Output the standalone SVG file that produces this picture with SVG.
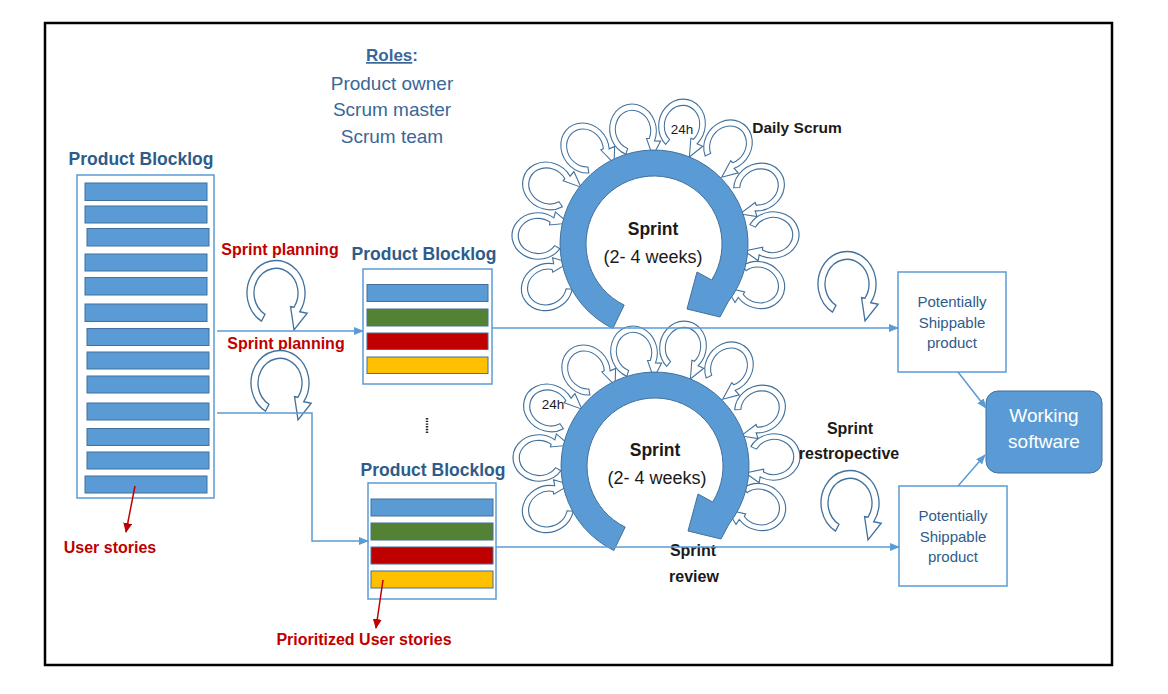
<svg xmlns="http://www.w3.org/2000/svg" width="1168" height="694" viewBox="0 0 1168 694">
<style>
text{font-family:"Liberation Sans",Arial,sans-serif}
.hd{font-weight:bold;font-size:17.5px;fill:#2E5C8A;text-anchor:middle}
.role{font-size:19px;fill:#3A6798;text-anchor:middle}
.red{font-weight:bold;font-size:16px;fill:#C00000;text-anchor:middle}
.blk{font-weight:bold;font-size:16px;fill:#1a1a1a;text-anchor:middle}
.sp{font-size:18px;fill:#1a1a1a;text-anchor:middle}
.spb{font-weight:bold;font-size:17.5px;fill:#1a1a1a;text-anchor:middle}
.h24{font-size:13.5px;fill:#1a1a1a;text-anchor:middle}
.box{fill:#fff;stroke:#5B9BD5;stroke-width:1.5}
.bar{stroke:#41719C;stroke-width:1}
.b{fill:#5B9BD5}.g{fill:#548235}.r{fill:#C00000}.y{fill:#FFC000}
.loop{fill:#fff;stroke:#41719C;stroke-width:1.3}
.ring{fill:#5B9BD5;stroke:#41719C;stroke-width:1}
.conn{fill:none;stroke:#5B9BD5;stroke-width:1.5}
.rconn{fill:none;stroke:#C00000;stroke-width:1.5}
.ptxt{font-size:15px;fill:#2E5C8A;text-anchor:middle}
.wtxt{font-size:19px;fill:#fff;text-anchor:middle}
</style>
<defs>
<marker id="ab" markerWidth="10" markerHeight="8" refX="9" refY="4" orient="auto" markerUnits="userSpaceOnUse"><path d="M0,0 L10,4 L0,8 Z" fill="#5B9BD5"/></marker>
<marker id="ar" markerWidth="10" markerHeight="9" refX="9" refY="4.5" orient="auto" markerUnits="userSpaceOnUse"><path d="M0,0 L10,4.5 L0,9 Z" fill="#C00000"/></marker>
<path id="lp" class="loop" transform="scale(1,1.12)" d="M -14.5 25.11 A 29 29 0 1 1 23.76 16.63 L 31.18 18 L 18 33 L 14.55 12.21 L 18.02 12.62 A 22 22 0 1 0 -11 19.05 Z"/>
<g id="cycle">
<use href="#lp" transform="translate(-107,43) rotate(248) scale(0.8)"/>
<use href="#lp" transform="translate(-116,-8) rotate(273) scale(0.8)"/>
<use href="#lp" transform="translate(-106,-58) rotate(298) scale(0.8)"/>
<use href="#lp" transform="translate(-69,-96) rotate(324) scale(0.8)"/>
<use href="#lp" transform="translate(-21,-114) rotate(349) scale(0.8)"/>
<use href="#lp" transform="translate(28,-119) rotate(13) scale(0.8)"/>
<use href="#lp" transform="translate(74,-99) rotate(37) scale(0.8)"/>
<use href="#lp" transform="translate(105,-57) rotate(61) scale(0.8)"/>
<use href="#lp" transform="translate(119,-9) rotate(87) scale(0.8)"/>
<use href="#lp" transform="translate(105,41) rotate(111) scale(0.8)"/>
<path class="ring" d="M -41.2 84.5 A 94 94 0 1 1 74.1 57.9 L 66 73 L 33 65 L 43 28 L 57.7 36 A 68 68 0 1 0 -29.8 61.1 Z"/>
</g>
</defs>

<rect x="45" y="23" width="1067" height="642" fill="#fff" stroke="#000" stroke-width="2.5"/>

<g id="roles">
<text class="role" x="392" y="61" style="font-weight:bold;font-size:17px"><tspan text-decoration="underline">Roles</tspan>:</text>
<text class="role" x="392" y="89.5">Product owner</text>
<text class="role" x="392" y="116">Scrum master</text>
<text class="role" x="392" y="143">Scrum team</text>
</g>

<g id="product-backlog">
<text class="hd" x="141" y="165">Product Blocklog</text>
<rect class="box" x="77" y="175" width="137" height="323"/>
<rect class="bar b" x="85" y="183" width="122" height="17.5"/>
<rect class="bar b" x="85" y="206" width="122" height="17"/>
<rect class="bar b" x="87" y="228.5" width="122" height="17.5"/>
<rect class="bar b" x="85" y="254" width="122" height="17"/>
<rect class="bar b" x="85" y="277.5" width="122" height="17.5"/>
<rect class="bar b" x="85" y="304" width="122" height="17.5"/>
<rect class="bar b" x="87" y="328.5" width="122" height="17"/>
<rect class="bar b" x="87" y="352" width="122" height="17"/>
<rect class="bar b" x="87" y="376" width="122" height="17"/>
<rect class="bar b" x="87" y="403" width="122" height="17"/>
<rect class="bar b" x="87" y="428.5" width="122" height="17"/>
<rect class="bar b" x="87" y="452" width="122" height="17"/>
<rect class="bar b" x="85" y="476" width="122" height="17"/>
</g>

<g id="user-stories">
<text class="red" x="110" y="553">User stories</text>
</g>

<g id="sprint-planning-1">
<text class="red" x="280" y="255">Sprint planning</text>
<use href="#lp" transform="translate(276,293)"/>
</g>
<g id="sprint-planning-2">
<text class="red" x="286" y="349">Sprint planning</text>
<use href="#lp" transform="translate(280,383)"/>
</g>

<g id="sprint-backlog-1">
<text class="hd" x="424" y="259.5">Product Blocklog</text>
<rect class="box" x="363" y="269" width="129" height="115"/>
<rect class="bar b" x="367" y="284.5" width="121" height="17"/>
<rect class="bar g" x="367" y="309" width="121" height="17"/>
<rect class="bar r" x="367" y="333" width="121" height="16.5"/>
<rect class="bar y" x="367" y="357" width="121" height="16.5"/>
</g>

<g id="ellipsis">
<line x1="427" y1="418" x2="427" y2="434" stroke="#222" stroke-width="2.4" stroke-dasharray="1.4 1.3"/>
</g>

<g id="sprint-backlog-2">
<text class="hd" x="433" y="476">Product Blocklog</text>
<rect class="box" x="368" y="483" width="128" height="116"/>
<rect class="bar b" x="371" y="499" width="122" height="17"/>
<rect class="bar g" x="371" y="523" width="122" height="17"/>
<rect class="bar r" x="371" y="547" width="122" height="17"/>
<rect class="bar y" x="371" y="571" width="122" height="17"/>
</g>

<g id="prioritized-user-stories">
<text class="red" x="364" y="645">Prioritized User stories</text>
</g>

<g id="sprint-1">
<use href="#cycle" transform="translate(654,244)"/>
<text class="spb" x="653" y="235">Sprint</text>
<text class="sp" x="653" y="262.5">(2- 4 weeks)</text>
<text class="h24" x="682" y="134">24h</text>
</g>

<g id="daily-scrum">
<text class="blk" x="797" y="133" style="font-size:15.5px">Daily Scrum</text>
</g>

<g id="sprint-2">
<use href="#cycle" transform="translate(655,466)"/>
<text class="spb" x="655" y="456">Sprint</text>
<text class="sp" x="657" y="483.5">(2- 4 weeks)</text>
<text class="h24" x="553" y="409">24h</text>
</g>

<g id="sprint-review">
<text class="blk" x="693" y="555.5">Sprint</text>
<text class="blk" x="694" y="581.5">review</text>
</g>

<g id="loop-shippable">
<use href="#lp" transform="translate(847,284)"/>
</g>

<g id="sprint-retrospective">
<text class="blk" x="850" y="433.5">Sprint</text>
<text class="blk" x="849" y="458.5">restropective</text>
<use href="#lp" transform="translate(850,503)"/>
</g>

<g id="shippable-1">
<rect class="box" x="898" y="272" width="108" height="100"/>
<text class="ptxt" x="952" y="307">Potentially</text>
<text class="ptxt" x="952" y="328">Shippable</text>
<text class="ptxt" x="952" y="348">product</text>
</g>

<g id="shippable-2">
<rect class="box" x="899" y="486" width="108" height="100"/>
<text class="ptxt" x="953" y="521">Potentially</text>
<text class="ptxt" x="953" y="542">Shippable</text>
<text class="ptxt" x="953" y="562">product</text>
</g>

<g id="working-software">
<rect x="986" y="391" width="116" height="82" rx="12" fill="#5B9BD5" stroke="#41719C" stroke-width="1"/>
<text class="wtxt" x="1044" y="421.5">Working</text>
<text class="wtxt" x="1044" y="448">software</text>
</g>

<g id="connectors">
<path class="conn" d="M217,331 H363" marker-end="url(#ab)"/>
<path class="conn" d="M217,413 H312 V541 H368" marker-end="url(#ab)"/>
<path class="conn" d="M492,328 H898" marker-end="url(#ab)"/>
<path class="conn" d="M496,547 H899" marker-end="url(#ab)"/>
<path class="conn" d="M958,372 L986,408" marker-end="url(#ab)"/>
<path class="conn" d="M958,486 L985,455" marker-end="url(#ab)"/>
<path class="rconn" d="M135,486 L126,532" marker-end="url(#ar)"/>
<path class="rconn" d="M383,580 L376,628" marker-end="url(#ar)"/>
</g>
</svg>
